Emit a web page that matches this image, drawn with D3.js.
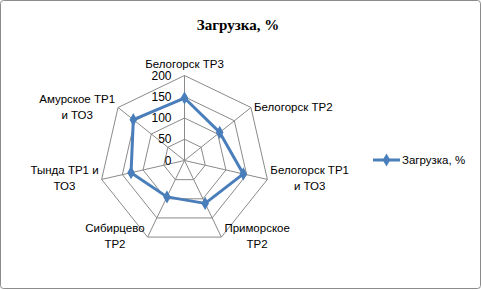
<!DOCTYPE html>
<html lang="ru">
  <head>
    <meta charset="UTF-8" />
    <title>Загрузка, %</title>
    <style>
      body { margin: 0; background: #fff; }
      text { font-family: 'Liberation Sans', Arial, sans-serif; }
    </style>
  </head>
  <body>
    <svg id="svg" width="482" height="290"></svg>
    <script src="https://cdn.jsdelivr.net/npm/d3@7/dist/d3.min.js"></script>
    <script>
      // данные
      const categories = [
        ['Белогорск ТР3'],
        ['Белогорск ТР2'],
        ['Белогорск ТР1', 'и ТО3'],
        ['Приморское', 'ТР2'],
        ['Сибирцево', 'ТР2'],
        ['Тында ТР1 и', 'ТО3'],
        ['Амурское ТР1', 'и ТО3']
      ]
      const values = [147, 106, 142, 112, 95, 129, 154]
      const ticks = [0, 50, 100, 150, 200]
      const seriesName = 'Загрузка, %'

      const svg = d3.select('#svg')
      const width = +svg.attr('width')
      const height = +svg.attr('height')
      const cx = 184.5
      const cy = 160.5
      const R = 85
      const blue = '#4a7ebb'
      const grid = '#8a8a8a'
      const fs = '11.5px'

      // рамка
      svg.append('rect')
        .attr('x', 0.5).attr('y', 0.5)
        .attr('width', width - 2).attr('height', height - 2)
        .attr('rx', 3)
        .attr('fill', '#fff')
        .attr('stroke', '#8c8c8c')

      svg.append('text')
        .attr('x', 238).attr('y', 30)
        .attr('text-anchor', 'middle')
        .style('font-family', "'Liberation Serif', 'Times New Roman', serif")
        .style('font-weight', 'bold')
        .style('font-size', '15px')
        .text(seriesName)

      const r = d3.scaleLinear().domain([0, 200]).range([0, R])
      const n = categories.length
      const angle = (i) => (i * 2 * Math.PI) / n
      const pt = (i, v) => [cx + r(v) * Math.sin(angle(i)), cy - r(v) * Math.cos(angle(i))]

      const g = svg.append('g')

      // кольца сетки
      g.selectAll('.ring')
        .data(ticks.slice(1))
        .enter()
        .append('path')
        .attr('d', (t) => d3.line()(d3.range(n).map((i) => pt(i, t))) + 'Z')
        .attr('fill', 'none')
        .attr('stroke', grid)
        .attr('stroke-width', 1)

      // оси
      g.selectAll('.spoke')
        .data(d3.range(n))
        .enter()
        .append('line')
        .attr('x1', cx).attr('y1', cy)
        .attr('x2', (i) => pt(i, 200)[0])
        .attr('y2', (i) => pt(i, 200)[1])
        .attr('stroke', grid)
        .attr('stroke-width', 1)

      // подписи шкалы
      g.selectAll('.tick')
        .data(ticks)
        .enter()
        .append('text')
        .attr('x', cx - 13)
        .attr('y', (t) => cy - r(t))
        .attr('dy', '0.35em')
        .attr('text-anchor', 'end')
        .style('font-size', '12px')
        .attr('fill', '#000')
        .text((t) => t)

      // подписи категорий
      const lh = 16
      categories.forEach((lines, i) => {
        const [vx, vy] = pt(i, 200)
        const s = Math.sin(angle(i))
        const t = g.append('text').style('font-size', fs).attr('text-anchor', 'middle')
        const spans = lines.map((l) => t.append('tspan').text(l))
        const w = d3.max(spans, (sp) => sp.node().getComputedTextLength())
        const h = lines.length * lh
        let x, top
        if (Math.abs(s) < 0.1) {
          x = vx
          top = vy - 4 - h
        } else {
          x = s > 0 ? vx + 3 + w / 2 : vx - 3 - w / 2
          top = vy - h / 2 - 1
        }
        spans.forEach((sp, k) => sp.attr('x', x).attr('y', top + lh * k + lh / 2).attr('dy', '0.35em'))
      })

      // серия
      const pts = values.map((v, i) => pt(i, v))
      g.append('path')
        .attr('d', d3.line()(pts) + 'Z')
        .attr('fill', 'none')
        .attr('stroke', blue)
        .attr('stroke-width', 3)
        .attr('stroke-linejoin', 'round')

      const diamond = d3.symbol().type(d3.symbolDiamond).size(50)
      g.selectAll('.pt')
        .data(pts)
        .enter()
        .append('path')
        .attr('d', diamond)
        .attr('transform', (d) => `translate(${d[0]},${d[1]})`)
        .attr('fill', blue)

      // легенда
      const lg = svg.append('g').attr('transform', 'translate(373,160)')
      lg.append('line').attr('x1', 0).attr('x2', 27).attr('stroke', blue).attr('stroke-width', 3)
      lg.append('path').attr('d', diamond).attr('transform', 'translate(13.5,0)').attr('fill', blue)
      lg.append('text')
        .attr('x', 29).attr('dy', '0.35em')
        .style('font-size', fs)
        .text(seriesName)
    </script>
  </body>
</html>
